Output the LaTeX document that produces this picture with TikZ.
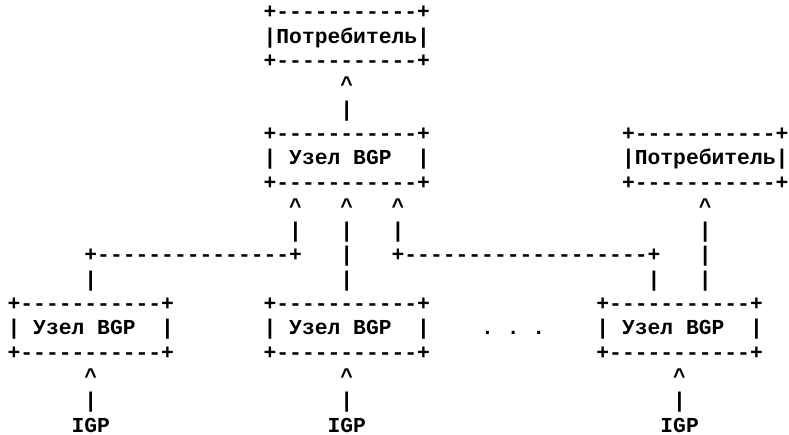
\documentclass[tikz,border=0pt]{standalone}
\usepackage{fontspec}
\setmonofont{Liberation Mono}
\newcommand\At[2]{({5.7pt+9.6pt*(#1)},{0.75pt*(416-24.3*(#2-1))})}
\newcommand\up{\textasciicircum}
\begin{document}
\begin{tikzpicture}[
  seg/.style={anchor=base west, inner sep=0pt, outer sep=0pt,
    font=\ttfamily\bfseries\fontsize{16}{18}\selectfont},
  lastrow/.style={seg, text depth=0pt}]
\fill[white] (0,0) rectangle (591.75pt,326.25pt);
\useasboundingbox (0,0) rectangle (591.75pt,326.25pt);
% top consumer
\node[seg] (c1a) at \At{20}{1} {+-----------+};
\node[seg] (c1b) at \At{20}{2} {|Потребитель|};
\node[seg] (c1c) at \At{20}{3} {+-----------+};
\node[seg] (r4a) at \At{26}{4} {\up};
\node[seg] (r5a) at \At{26}{5} {|};
% central BGP node and right consumer
\node[seg] (b0a) at \At{20}{6} {+-----------+};
\node[seg] (b0b) at \At{20}{7} {| Узел~BGP~~|};
\node[seg] (b0c) at \At{20}{8} {+-----------+};
\node[seg] (c2a) at \At{48}{6} {+-----------+};
\node[seg] (c2b) at \At{48}{7} {|Потребитель|};
\node[seg] (c2c) at \At{48}{8} {+-----------+};
% arrows up
\node[seg] (r9a) at \At{22}{9} {\up};
\node[seg] (r9b) at \At{26}{9} {\up};
\node[seg] (r9c) at \At{30}{9} {\up};
\node[seg] (r9d) at \At{54}{9} {\up};
\node[seg] (r10a) at \At{22}{10} {|};
\node[seg] (r10b) at \At{26}{10} {|};
\node[seg] (r10c) at \At{30}{10} {|};
\node[seg] (r10d) at \At{54}{10} {|};
\node[seg] (r11a) at \At{6}{11} {+---------------+};
\node[seg] (r11b) at \At{26}{11} {|};
\node[seg] (r11c) at \At{30}{11} {+-------------------+};
\node[seg] (r11d) at \At{54}{11} {|};
\node[seg] (r12a) at \At{6}{12} {|};
\node[seg] (r12b) at \At{26}{12} {|};
\node[seg] (r12c) at \At{50}{12} {|};
\node[seg] (r12d) at \At{54}{12} {|};
% lower BGP nodes
\node[seg] (b1a) at \At{0}{13} {+-----------+};
\node[seg] (b1b) at \At{0}{14} {| Узел~BGP~~|};
\node[seg] (b1c) at \At{0}{15} {+-----------+};
\node[seg] (b2a) at \At{20}{13} {+-----------+};
\node[seg] (b2b) at \At{20}{14} {| Узел~BGP~~|};
\node[seg] (b2c) at \At{20}{15} {+-----------+};
\node[seg] (dots) at \At{37}{14} {.~.~.};
\node[seg] (b3a) at \At{46}{13} {+-----------+};
\node[seg] (b3b) at \At{46}{14} {| Узел~BGP~~|};
\node[seg] (b3c) at \At{46}{15} {+-----------+};
% IGP inputs
\node[seg] (r16a) at \At{6}{16} {\up};
\node[seg] (r16b) at \At{26}{16} {\up};
\node[seg] (r16c) at \At{52}{16} {\up};
\node[seg] (r17a) at \At{6}{17} {|};
\node[seg] (r17b) at \At{26}{17} {|};
\node[seg] (r17c) at \At{52}{17} {|};
\node[lastrow] (igp1) at \At{5}{18} {IGP};
\node[lastrow] (igp2) at \At{25}{18} {IGP};
\node[lastrow] (igp3) at \At{51}{18} {IGP};
\end{tikzpicture}
\end{document}
